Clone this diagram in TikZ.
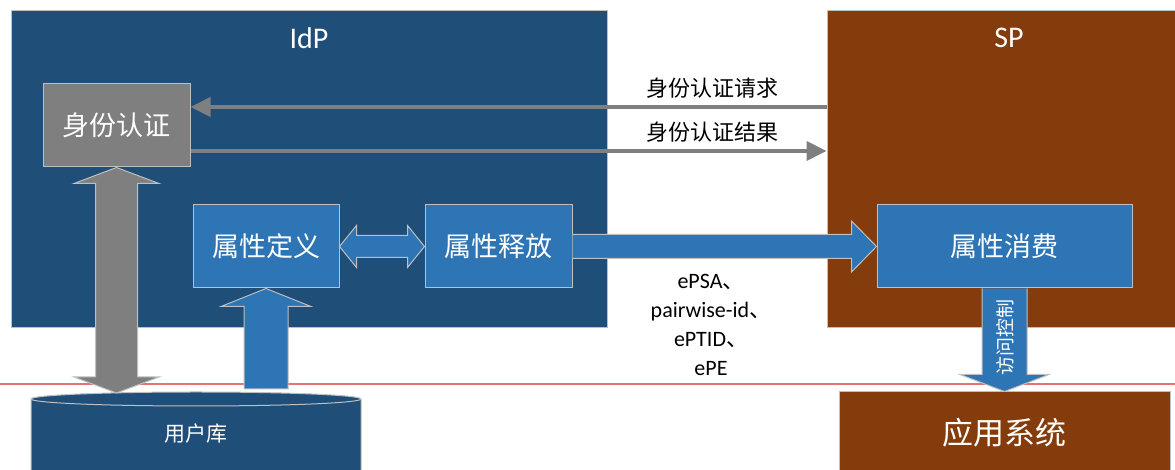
\documentclass[tikz,border=0pt]{standalone}
\usepackage{fontspec}
\setmainfont{Carlito}
\newfontfamily\cjk{Noto Sans CJK SC}
\usetikzlibrary{arrows.meta,calc}

\definecolor{idpblue}{HTML}{1F4E79}
\definecolor{boxblue}{HTML}{2E75B6}
\definecolor{spbrown}{HTML}{843C0C}
\definecolor{boxgray}{HTML}{7F7F7F}
\definecolor{edgegray}{HTML}{BFBFBF}
\definecolor{sepred}{HTML}{E67373}

\tikzset{
  panel/.style={rectangle,draw=edgegray,line width=1pt,inner sep=0pt,text=white},
  boxtext/.style={font=\cjk\fontsize{27}{32}\selectfont},
  titletext/.style={text=white,font=\fontsize{30}{36}\selectfont},
  msgline/.style={draw=boxgray,line width=4pt,-{Triangle[length=20pt,width=19pt]}},
  msgtext/.style={font=\cjk\fontsize{22}{26}\selectfont},
  blockarrow/.style={draw=edgegray,line width=1pt,fill=#1},
}

\begin{document}
\begin{tikzpicture}[x=1pt,y=1pt]
\useasboundingbox (0,0) rectangle (1175,470);

% panels
\node[panel,fill=idpblue,minimum width=596pt,minimum height=317pt] (idp) at (309,300.5) {};
\node[panel,fill=spbrown,minimum width=353pt,minimum height=317pt] (sp) at (1003.5,300.5) {};
\node[titletext] (idptitle) at (309,432) {IdP};
\node[titletext] (sptitle) at (1009,432) {SP};

\draw[sepred,line width=1.5pt] (0,86) -- (1175,86);

% user store
\fill[idpblue] (31,71) -- (31,-10) -- (361,-10) -- (361,71)
  arc[start angle=0,end angle=180,x radius=165,y radius=7] -- cycle;
\draw[edgegray,line width=1pt] (31,-10) -- (31,71)
  arc[start angle=180,end angle=0,x radius=165,y radius=7] -- (361,-10);
\draw[edgegray,line width=1pt] (31,71)
  arc[start angle=180,end angle=360,x radius=165,y radius=7];
\node[text=white,font=\cjk\fontsize{21}{25}\selectfont] (db) at (196,36) {用户库};
\coordinate (dbA) at (116.5,77);
\coordinate (dbB) at (266,81);

\node[panel,fill=spbrown,minimum width=331pt,minimum height=82pt,
  font=\cjk\fontsize{31}{37}\selectfont] (app) at (1004.5,37) {应用系统};

% boxes
\node[panel,fill=boxgray,minimum width=147pt,minimum height=83pt,boxtext] (auth) at (116.5,344.5) {身份认证};
\node[panel,fill=boxblue,minimum width=146pt,minimum height=83pt,boxtext] (def) at (266,223.5) {属性定义};
\node[panel,fill=boxblue,minimum width=147pt,minimum height=83pt,boxtext] (rel) at (498.5,223.5) {属性释放};
\node[panel,fill=boxblue,minimum width=255pt,minimum height=83pt,boxtext] (con) at (1004.5,223.5) {属性消费};

% block arrows
\draw[blockarrow=boxgray] (auth.south) -- ++(42.5,-16) -- ++(-21.5,0)
  -- ($(dbA)+(21,16)$) -- ++(21.5,0) -- (dbA) -- ++(-42.5,16) -- ++(21.5,0)
  -- ($(auth.south)+(-21,-16)$) -- ++(-21.5,0) -- cycle;
\draw[blockarrow=boxblue] ($(dbB)+(-22,0)$) -- ($(def.south)+(-22,-18)$) -- ++(-23,0)
  -- (def.south) -- ++(45,-18) -- ++(-23,0) -- ($(dbB)+(22,0)$) -- cycle;
\draw[blockarrow=boxblue] (def.east) -- ++(17,21) -- ++(0,-10)
  -- ($(rel.west)+(-17,11)$) -- ++(0,10) -- (rel.west) -- ++(-17,-21) -- ++(0,10)
  -- ($(def.east)+(17,-11)$) -- ++(0,-10) -- cycle;
\draw[blockarrow=boxblue] ($(rel.east)+(0,12)$) -- ($(con.west)+(-25,12)$) -- ++(0,13.5)
  -- (con.west) -- ++(-25,-25.5) -- ++(0,13.5) -- ($(rel.east)+(0,-12)$);
\draw[blockarrow=boxblue] ($(con.south)+(-22.5,0)$) -- ($(app.north)+(-22.5,17)$) -- ++(-22,0)
  -- (app.north) -- ++(44.5,17) -- ++(-22,0) -- ($(con.south)+(22.5,0)$);
\node[rotate=90,text=white,font=\cjk\fontsize{19}{23}\selectfont] (acl) at (1005,132) {访问控制};

% messages
\draw[msgline] (sp.west |- 0,363) -- (auth.east |- 0,363);
\draw[msgline] (auth.east |- 0,319) -- (sp.west |- 0,319);
\node[msgtext] (req) at (712,382) {身份认证请求};
\node[msgtext] (res) at (712,338) {身份认证结果};

\node[align=center,font=\fontsize{22}{29}\selectfont] (ids) at (711,145.5)
  {ePSA{\cjk 、}\\pairwise-id{\cjk 、}\\ePTID{\cjk 、}\\ePE};

\end{tikzpicture}
\end{document}
